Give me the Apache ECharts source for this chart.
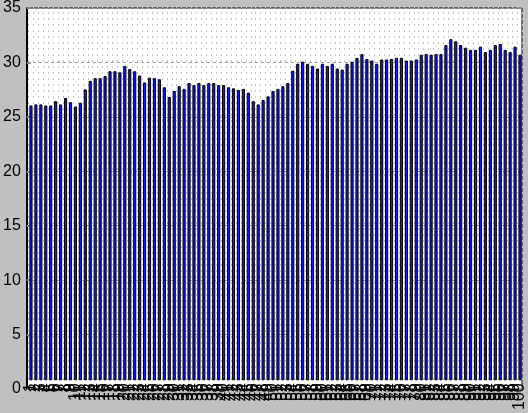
<!DOCTYPE html>
<html>
<head>
<meta charset="utf-8">
<script src="https://cdn.jsdelivr.net/npm/echarts@6/dist/echarts.min.js"></script>
<style>
html,body{margin:0;padding:0;background:#c0c0c0;}
#chart{width:528px;height:413px;}
</style>
</head>
<body>
<div id="chart"></div>
<script>
const categories = [];
for (let i = 1; i <= 100; i++) categories.push(String(i));

const values = [
  25.7, 25.8, 25.8, 25.7, 25.7, 26.1, 25.8, 26.4, 26.0, 25.6,
  25.95, 27.2, 28.0, 28.25, 28.25, 28.45, 28.9, 28.9, 28.8, 29.4,
  29.1, 28.9, 28.5, 27.85, 28.3, 28.25, 28.15, 27.4, 26.5, 27.05,
  27.5, 27.25, 27.8, 27.6, 27.8, 27.6, 27.8, 27.8, 27.6, 27.6,
  27.4, 27.3, 27.15, 27.25, 26.9, 26.1, 25.8, 26.2, 26.55, 27.05,
  27.25, 27.5, 27.8, 28.95, 29.6, 29.8, 29.6, 29.4, 29.15, 29.6,
  29.4, 29.6, 29.15, 29.05, 29.6, 29.8, 30.15, 30.5, 30.05, 29.9,
  29.6, 30.0, 30.0, 30.05, 30.15, 30.15, 29.9, 29.9, 30.0, 30.45,
  30.5, 30.45, 30.5, 30.5, 31.35, 31.9, 31.7, 31.35, 31.1, 30.9,
  30.9, 31.2, 30.7, 30.9, 31.35, 31.45, 30.9, 30.7, 31.2, 30.45
];

const yTicks = { min: 0, max: 35, interval: 5 };

const chart = echarts.init(document.getElementById('chart'), null, {renderer: 'canvas'});
chart.setOption({
  backgroundColor: '#c0c0c0',
  animation: false,
  grid: [
    {left: 26, top: 6, right: 6, bottom: 24, show: true, backgroundColor: '#ffffff', borderColor: '#000000', borderWidth: 1},
    {left: 28.5, top: 6, right: 4, bottom: 24, show: false}
  ],
  xAxis: [
    {gridIndex: 0, type: 'value', min: 0, max: 1,
     axisLine: {show: true, onZero: false, lineStyle: {color: '#000', width: 1}},
     axisTick: {show: false}, axisLabel: {show: false}, splitLine: {show: false}},
    {gridIndex: 1, type: 'category', data: categories, boundaryGap: true,
     axisLine: {show: false}, axisTick: {show: false},
     axisLabel: {interval: 0, rotate: 90, fontSize: 16, color: '#000', margin: 3, fontFamily: 'Liberation Sans, Arial, sans-serif', hideOverlap: false},
     splitLine: {show: true, interval: 0, lineStyle: {color: '#c4c4c4', type: [2, 4], width: 1}}}
  ],
  yAxis: [
    {gridIndex: 0, type: 'value', min: yTicks.min, max: yTicks.max, interval: yTicks.interval,
     axisLine: {show: true, lineStyle: {color: '#000', width: 2}},
     axisTick: {show: true, inside: true, length: 4, lineStyle: {color: '#888', width: 2}},
     axisLabel: {fontSize: 16, color: '#000', margin: 6, fontFamily: 'Liberation Sans, Arial, sans-serif'},
     splitLine: {show: true, lineStyle: {color: '#999', type: [3, 3], width: 1}}},
    {gridIndex: 0, type: 'value', position: 'right', min: yTicks.min, max: yTicks.max, interval: yTicks.interval,
     axisLine: {show: false},
     axisTick: {show: true, inside: true, length: 4, lineStyle: {color: '#888', width: 2}},
     axisLabel: {show: false}, splitLine: {show: false}},
    {gridIndex: 1, type: 'value', min: yTicks.min, max: yTicks.max, interval: yTicks.interval, show: false,
     splitLine: {show: false}}
  ],
  series: [{
    type: 'bar',
    xAxisIndex: 1,
    yAxisIndex: 2,
    data: values,
    barCategoryGap: '36%',
    itemStyle: {color: '#1515ff', borderColor: '#000', borderWidth: 1},
    emphasis: {disabled: true}
  }]
});
</script>
</body>
</html>
